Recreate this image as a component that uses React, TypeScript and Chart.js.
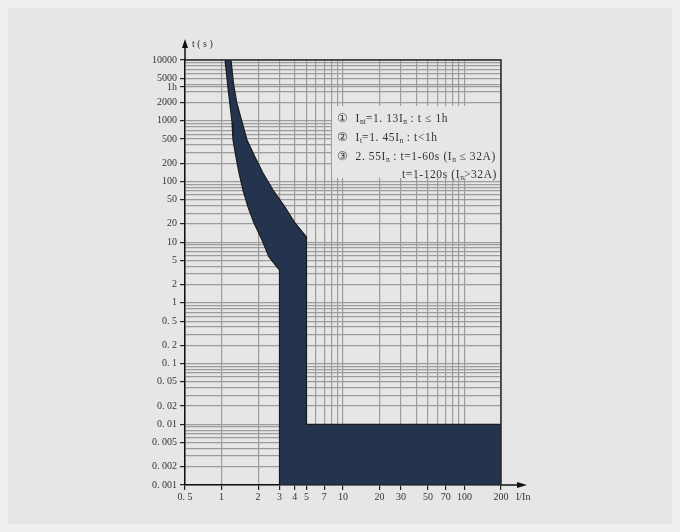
import React, { useEffect, useRef } from 'react';
import { Chart, registerables } from 'chart.js';

Chart.register(...registerables);

// ---- axis ticks ----
const xTickValues = [0.5, 1, 2, 3, 4, 5, 6, 7, 8, 9, 10, 20, 30, 40, 50, 60, 70, 80, 90, 100, 200];
const xTickLabels = ['0. 5', '1', '2', '3', '4', '5', '', '7', '', '', '10', '20', '30', '', '50', '', '70', '', '', '100', '200'];

const yDecades = [0.001, 0.01, 0.1, 1, 10, 100, 1000];
const yMultipliers = [1, 2, 3, 4, 5, 6, 7, 8, 9];
const yExtraTicks = [3600, 10000];
const yLabelValues = [0.001, 0.002, 0.005, 0.01, 0.02, 0.05, 0.1, 0.2, 0.5, 1, 2, 5, 10, 20, 50, 100, 200, 500, 1000, 2000, 3600, 5000, 10000];
const yLabelTexts = ['0. 001', '0. 002', '0. 005', '0. 01', '0. 02', '0. 05', '0. 1', '0. 2', '0. 5', '1', '2', '5', '10', '20', '50', '100', '200', '500', '1000', '2000', '1h', '5000', '10000'];

// ---- trip band (I/In, t seconds) ----
const leftCurveI = [1.068, 1.13, 1.219, 1.242, 1.315, 1.392, 1.501, 1.651, 1.85, 2.153, 2.457, 3];
const leftCurveT = [10000, 3460, 952, 481, 252, 138, 72, 37.9, 20.7, 10.8, 5.69, 3.47];
const instantI = [3, 200, 200, 5];
const instantT = [0.001, 0.001, 0.01, 0.01];
const rightCurveI = [5, 4.025, 3.329, 2.652, 2.194, 1.885, 1.62, 1.473, 1.333, 1.255, 1.196];
const rightCurveT = [12.15, 20.7, 37.9, 72.2, 138, 252, 481, 952, 2000, 4000, 10000];

const yGridValues: number[] = [];
yDecades.forEach((d) => yMultipliers.forEach((m) => yGridValues.push(Number((m * d).toPrecision(3)))));
yExtraTicks.forEach((v) => yGridValues.push(v));
yGridValues.sort((a, b) => a - b);

const same = (a: number, b: number) => Math.abs(Math.log10(a) - Math.log10(b)) < 1e-6;
const yLabelFor = (v: number) => {
  const i = yLabelValues.findIndex((l) => same(l, v));
  return i >= 0 ? yLabelTexts[i] : '';
};
const xLabelFor = (v: number) => {
  const i = xTickValues.findIndex((l) => same(l, v));
  return i >= 0 ? xTickLabels[i] : '';
};

const PAGE_BG = '#e6e6e7';
const TEXT = '#333333';
const FONT = "'Liberation Serif', 'DejaVu Serif', serif";

const framePlugin = {
  id: 'frame',
  afterDraw(chart: any) {
    const { ctx, chartArea } = chart;
    const { left, right, top, bottom } = chartArea;
    ctx.save();
    ctx.strokeStyle = '#2a2a2a';
    ctx.lineWidth = 1.5;
    ctx.beginPath();
    ctx.moveTo(left, top);
    ctx.lineTo(right, top);
    ctx.lineTo(right, bottom);
    ctx.stroke();
    // y arrow
    ctx.strokeStyle = '#111';
    ctx.beginPath();
    ctx.moveTo(left, top);
    ctx.lineTo(left, top - 18);
    ctx.stroke();
    ctx.fillStyle = '#111';
    ctx.beginPath();
    ctx.moveTo(left, top - 21);
    ctx.lineTo(left - 3, top - 12);
    ctx.lineTo(left + 3, top - 12);
    ctx.closePath();
    ctx.fill();
    // x arrow
    ctx.beginPath();
    ctx.moveTo(right, bottom);
    ctx.lineTo(right + 22, bottom);
    ctx.stroke();
    ctx.beginPath();
    ctx.moveTo(right + 26, bottom);
    ctx.lineTo(right + 16, bottom - 3);
    ctx.lineTo(right + 16, bottom + 3);
    ctx.closePath();
    ctx.fill();
    // axis titles
    ctx.fillStyle = TEXT;
    ctx.font = `10px ${FONT}`;
    ctx.textBaseline = 'middle';
    ctx.textAlign = 'left';
    ctx.fillText('t ( s )', left + 7, top - 16);
    ctx.fillText('I/In', right + 15, bottom + 12);
    ctx.restore();
  },
};

function App() {
  const canvasRef = useRef<HTMLCanvasElement | null>(null);

  useEffect(() => {
    document.body.style.background = '#efefef';
    const canvas = canvasRef.current;
    if (!canvas) return;

    const polygon: { x: number; y: number }[] = [];
    leftCurveI.forEach((x, i) => polygon.push({ x, y: leftCurveT[i] }));
    instantI.forEach((x, i) => polygon.push({ x, y: instantT[i] }));
    rightCurveI.forEach((x, i) => polygon.push({ x, y: rightCurveT[i] }));
    polygon.push({ x: leftCurveI[0], y: leftCurveT[0] });

    const chart = new Chart(canvas, {
      type: 'scatter',
      data: {
        datasets: [
          {
            data: polygon,
            showLine: true,
            fill: 'shape',
            backgroundColor: '#24344f',
            borderColor: '#1b1b1b',
            borderWidth: 1.2,
            pointRadius: 0,
            tension: 0,
          } as any,
        ],
      },
      options: {
        responsive: false,
        animation: false,
        layout: { padding: { left: 0, top: 52, right: 171, bottom: 0 } },
        plugins: { legend: { display: false }, tooltip: { enabled: false } },
        scales: {
          x: {
            type: 'logarithmic',
            min: 0.5,
            max: 200,
            afterBuildTicks: (scale: any) => {
              scale.ticks = xTickValues.map((v) => ({ value: v }));
            },
            afterFit: (scale: any) => {
              scale.height = 39;
            },
            border: { color: '#111', width: 1.5 },
            grid: {
              color: '#9c9c9c',
              lineWidth: 1.2,
              tickLength: 5,
              tickColor: (ctx: any) => (ctx.tick && xLabelFor(ctx.tick.value) ? '#222' : 'rgba(0,0,0,0)'),
            },
            ticks: {
              autoSkip: false,
              maxRotation: 0,
              padding: 1,
              color: TEXT,
              font: { family: FONT, size: 10 },
              callback: (v: any) => xLabelFor(Number(v)),
            },
          },
          y: {
            type: 'logarithmic',
            min: 0.001,
            max: 10000,
            afterBuildTicks: (scale: any) => {
              scale.ticks = yGridValues.map((v) => ({ value: v }));
            },
            afterFit: (scale: any) => {
              scale.width = 177;
            },
            border: { color: '#111', width: 1.5 },
            grid: {
              color: '#9c9c9c',
              lineWidth: 1.2,
              tickLength: 5,
              tickColor: (ctx: any) => (ctx.tick && yLabelFor(ctx.tick.value) ? '#222' : 'rgba(0,0,0,0)'),
            },
            ticks: {
              autoSkip: false,
              padding: 3,
              color: TEXT,
              font: { family: FONT, size: 10 },
              callback: (v: any) => yLabelFor(Number(v)),
            },
          },
        },
      },
      plugins: [framePlugin],
    });
    return () => chart.destroy();
  }, []);

  const sub = { fontSize: '7.5px', verticalAlign: '-2px', letterSpacing: 0 } as React.CSSProperties;

  return (
    <div style={{ position: 'relative', width: 664, height: 516, background: PAGE_BG }}>
      <canvas ref={canvasRef} width={664} height={516} style={{ display: 'block' }} />
      <div
        style={{
          position: 'absolute',
          left: 324,
          top: 98,
          width: 168,
          height: 72,
          background: PAGE_BG,
          color: TEXT,
          fontFamily: FONT,
          fontSize: '11.5px',
          letterSpacing: '0.6px',
          lineHeight: '14.8px',
          paddingTop: 5,
          paddingLeft: 5,
          boxSizing: 'border-box',
          whiteSpace: 'nowrap',
        }}
      >
        <div>① &nbsp;I<span style={sub}>nt</span>=1. 13I<span style={sub}>n</span> : t ≤ 1h</div>
        <div>② &nbsp;I<span style={sub}>t</span>=1. 45I<span style={sub}>n</span> : t&lt;1h</div>
        <div>③ &nbsp;2. 55I<span style={sub}>n</span> : t=1-60s (I<span style={sub}>n</span> ≤ 32A)</div>
        <div style={{ paddingLeft: 65 }}>t=1-120s (I<span style={sub}>n</span>&gt;32A)</div>
      </div>
    </div>
  );
}

export default App;
